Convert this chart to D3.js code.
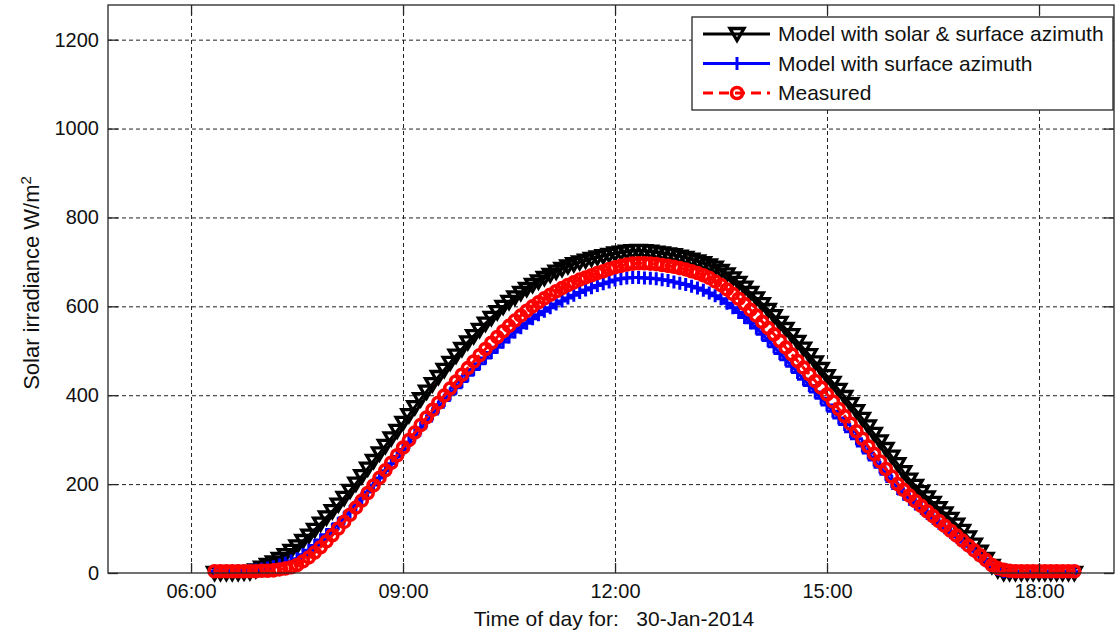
<!DOCTYPE html>
<html>
<head>
<meta charset="utf-8">
<script src="https://cdn.jsdelivr.net/npm/d3@7"></script>
<style>
  body { margin: 0; background: #fff; }
  text { font-family: "Liberation Sans", Arial, sans-serif; fill: #111; }
</style>
</head>
<body>
<svg></svg>
<script>
const day = '2014-01-30';

// sample times, every 5 minutes
const times = [
  '06:20','06:25','06:30','06:35','06:40','06:45','06:50','06:55',
  '07:00','07:05','07:10','07:15','07:20','07:25','07:30','07:35','07:40','07:45','07:50','07:55',
  '08:00','08:05','08:10','08:15','08:20','08:25','08:30','08:35','08:40','08:45','08:50','08:55',
  '09:00','09:05','09:10','09:15','09:20','09:25','09:30','09:35','09:40','09:45','09:50','09:55',
  '10:00','10:05','10:10','10:15','10:20','10:25','10:30','10:35','10:40','10:45','10:50','10:55',
  '11:00','11:05','11:10','11:15','11:20','11:25','11:30','11:35','11:40','11:45','11:50','11:55',
  '12:00','12:05','12:10','12:15','12:20','12:25','12:30','12:35','12:40','12:45','12:50','12:55',
  '13:00','13:05','13:10','13:15','13:20','13:25','13:30','13:35','13:40','13:45','13:50','13:55',
  '14:00','14:05','14:10','14:15','14:20','14:25','14:30','14:35','14:40','14:45','14:50','14:55',
  '15:00','15:05','15:10','15:15','15:20','15:25','15:30','15:35','15:40','15:45','15:50','15:55',
  '16:00','16:05','16:10','16:15','16:20','16:25','16:30','16:35','16:40','16:45','16:50','16:55',
  '17:00','17:05','17:10','17:15','17:20','17:25','17:30','17:35','17:40','17:45','17:50','17:55',
  '18:00','18:05','18:10','18:15','18:20','18:25','18:30'
];

// Model with solar & surface azimuth
const modelSolarSurface = [
  0, 0, 0, 0, 0, 1, 2, 6,
  12, 18, 24, 32, 40, 50, 60, 72, 84, 97, 111, 125,
  139, 154, 169, 185, 201, 218, 235, 252, 269, 286, 303, 320,
  338, 355, 373, 391, 408, 425, 441, 457, 473, 489, 504, 519,
  533, 547, 561, 574, 587, 599, 610, 620, 630, 639, 648, 656,
  664, 671, 678, 684, 690, 695, 699, 703, 707, 710, 713, 716,
  719, 721, 723, 724, 725, 724, 723, 721, 719, 717, 715, 712,
  709, 705, 701, 697, 692, 687, 680, 672, 663, 653, 642, 630,
  618, 605, 592, 578, 563, 549, 535, 520, 505, 490, 474, 459,
  443, 428, 412, 396, 380, 364, 347, 330, 313, 296, 279, 262,
  245, 227, 210, 196, 182, 170, 158, 146, 134, 122, 109, 95,
  80, 64, 48, 32, 16, 6, 0, 0, 0, 0, 0, 0,
  0, 0, 0, 0, 0, 0, 0
];

// Model with surface azimuth
const modelSurface = [
  4, 4, 4, 4, 5, 5, 6, 7,
  9, 11, 14, 18, 22, 27, 32, 41, 51, 62, 74, 86,
  98, 111, 124, 138, 152, 167, 182, 198, 214, 230, 246, 262,
  278, 294, 310, 326, 342, 358, 373, 388, 403, 417, 431, 445,
  458, 471, 484, 496, 508, 520, 531, 542, 552, 562, 572, 581,
  589, 597, 605, 612, 619, 625, 631, 637, 642, 647, 651, 655,
  659, 662, 664, 665, 665, 664, 663, 662, 660, 658, 655, 652,
  649, 645, 641, 636, 630, 624, 617, 607, 597, 586, 575, 563,
  551, 537, 523, 509, 494, 480, 465, 451, 436, 422, 407, 393,
  378, 364, 349, 334, 318, 302, 286, 270, 254, 238, 222, 206,
  190, 178, 166, 155, 145, 134, 123, 112, 102, 91, 81, 70,
  60, 49, 38, 27, 16, 8, 3, 3, 3, 3, 3, 3,
  3, 3, 3, 3, 3, 3, 3
];

// Measured
const measured = [
  4, 4, 4, 4, 4, 4, 4, 4,
  5, 5, 6, 8, 10, 13, 18, 26, 35, 46, 58, 71,
  85, 100, 115, 131, 147, 163, 180, 197, 214, 231, 248, 265,
  282, 299, 316, 333, 350, 367, 383, 399, 415, 431, 446, 461,
  476, 490, 504, 518, 531, 544, 556, 568, 579, 590, 600, 609,
  618, 626, 634, 641, 648, 654, 660, 665, 670, 675, 679, 684,
  688, 691, 694, 696, 697, 697, 696, 695, 693, 691, 689, 686,
  683, 679, 675, 670, 664, 656, 648, 638, 628, 617, 605, 592,
  579, 565, 551, 537, 522, 507, 492, 477, 462, 447, 432, 417,
  402, 386, 369, 353, 336, 319, 302, 285, 268, 251, 234, 217,
  200, 187, 174, 162, 151, 139, 128, 117, 106, 95, 84, 73,
  62, 51, 40, 29, 18, 11, 7, 5, 4, 4, 4, 4,
  4, 4, 4, 4, 4, 4, 4
];

const yTicks = [0, 200, 400, 600, 800, 1000, 1200];
const legendLabels = ['Model with solar & surface azimuth', 'Model with surface azimuth', 'Measured'];
const xLabel = 'Time of day for:   30-Jan-2014';

const width = 1116;
const height = 635;
const margin = {left: 108, top: 5, right: 2, bottom: 62};
const w = width - margin.left - margin.right;
const h = height - margin.top - margin.bottom;

const parse = d3.timeParse('%Y-%m-%d %H:%M:%S');
const tDates = times.map(t => parse(day + ' ' + t + ':00'));

const svg = d3.select('svg').attr('width', width).attr('height', height);

const xScale = d3.scaleTime()
  .domain([parse(day + ' 04:49:30'), parse(day + ' 19:03:40')])
  .range([0, w]);
const yScale = d3.scaleLinear().domain([0, 1278]).range([h, 0]);

const g = svg.append('g').attr('transform', 'translate(' + margin.left + ',' + margin.top + ')');

const xTicks = d3.timeHour.every(3);

// grid
g.append('g')
  .attr('class', 'gridX')
  .call(d3.axisBottom(xScale).ticks(xTicks).tickSize(h).tickFormat(''))
  .call(s => s.select('.domain').remove())
  .selectAll('line').attr('stroke', '#222').attr('stroke-dasharray', '4,3');

g.append('g')
  .attr('class', 'gridY')
  .call(d3.axisLeft(yScale).tickValues(yTicks.filter(v => v > 0)).tickSize(-w).tickFormat(''))
  .call(s => s.select('.domain').remove())
  .selectAll('line').attr('stroke', '#222').attr('stroke-dasharray', '4,3');

// series
const series = [
  {values: modelSolarSurface, color: '#000', dash: null, marker: 'tri'},
  {values: modelSurface, color: '#0000ff', dash: null, marker: 'plus'},
  {values: measured, color: '#ff0000', dash: '10,6', marker: 'circle'}
];

const markerPath = {
  tri: 'M-7,-5.5L7,-5.5L0,6.5Z',
  plus: 'M-6.5,0H6.5M0,-6.5V6.5',
  circle: d3.symbol().type(d3.symbolCircle).size(Math.PI * 5.5 * 5.5)()
};
const markerWidth = {tri: 3.3, plus: 3, circle: 3.6};

const line = d3.line().x(d => xScale(d.t)).y(d => yScale(d.v));

series.forEach((s, si) => {
  const pts = s.values.map((v, i) => ({t: tDates[i], v: v}));
  g.append('path')
    .datum(pts)
    .attr('fill', 'none')
    .attr('stroke', s.color)
    .attr('stroke-width', 3)
    .attr('stroke-dasharray', s.dash)
    .attr('d', line);
  g.selectAll('.m' + si)
    .data(pts)
    .enter()
    .append('path')
    .attr('class', 'm' + si)
    .attr('transform', d => 'translate(' + xScale(d.t) + ',' + yScale(d.v) + ')')
    .attr('d', markerPath[s.marker])
    .attr('fill', 'none')
    .attr('stroke', s.color)
    .attr('stroke-width', markerWidth[s.marker]);
});

// frame + axes
g.append('rect')
  .attr('width', w).attr('height', h)
  .attr('fill', 'none').attr('stroke', '#262626').attr('stroke-width', 1.3);

const axisX = g.append('g')
  .attr('class', 'axisX')
  .attr('transform', 'translate(0,' + h + ')')
  .call(d3.axisBottom(xScale).ticks(xTicks).tickFormat(d3.timeFormat('%H:%M')).tickSizeInner(-10).tickSizeOuter(0).tickPadding(11));

const axisY = g.append('g')
  .attr('class', 'axisY')
  .call(d3.axisLeft(yScale).tickValues(yTicks).tickFormat(d3.format('d')).tickSizeInner(-10).tickSizeOuter(0).tickPadding(9));

[axisX, axisY].forEach(a => {
  a.select('.domain').remove();
  a.selectAll('line').attr('stroke', '#262626').attr('stroke-width', 1.3);
  a.selectAll('text').attr('font-size', 20).attr('fill', '#111').attr('font-family', '"Liberation Sans", Arial, sans-serif');
});

// top and right ticks
g.append('g')
  .call(d3.axisTop(xScale).ticks(xTicks).tickFormat('').tickSizeInner(-10).tickSizeOuter(0))
  .call(s => s.select('.domain').remove())
  .selectAll('line').attr('stroke', '#262626').attr('stroke-width', 1.3);
g.append('g')
  .attr('transform', 'translate(' + w + ',0)')
  .call(d3.axisRight(yScale).tickValues(yTicks).tickFormat('').tickSizeInner(-10).tickSizeOuter(0))
  .call(s => s.select('.domain').remove())
  .selectAll('line').attr('stroke', '#262626').attr('stroke-width', 1.3);

// axis labels
svg.append('text')
  .attr('x', margin.left + w / 2 + 3)
  .attr('y', 626)
  .attr('text-anchor', 'middle')
  .attr('font-size', 21)
  .style('white-space', 'pre')
  .text(xLabel);

const yl = svg.append('text')
  .attr('transform', 'translate(39,283) rotate(-90)')
  .attr('text-anchor', 'middle')
  .attr('font-size', 22);
yl.append('tspan').text('Solar irradiance W/m');
yl.append('tspan').attr('baseline-shift', 'super').attr('font-size', 15).text('2');

// legend
const leg = svg.append('g').attr('transform', 'translate(692,17)');
leg.append('rect')
  .attr('width', 421).attr('height', 93)
  .attr('fill', '#fff').attr('stroke', '#262626').attr('stroke-width', 1.3);

series.forEach((s, i) => {
  const yy = 17 + i * 29.5;
  leg.append('line')
    .attr('x1', 11).attr('x2', 78).attr('y1', yy).attr('y2', yy)
    .attr('stroke', s.color).attr('stroke-width', 3)
    .attr('stroke-dasharray', s.dash);
  leg.append('path')
    .attr('transform', 'translate(45,' + yy + ')')
    .attr('d', markerPath[s.marker])
    .attr('fill', 'none').attr('stroke', s.color)
    .attr('stroke-width', markerWidth[s.marker]);
  leg.append('text')
    .attr('x', 86).attr('y', yy)
    .attr('dy', '0.35em')
    .attr('font-size', 21)
    .text(legendLabels[i]);
});
</script>
</body>
</html>
